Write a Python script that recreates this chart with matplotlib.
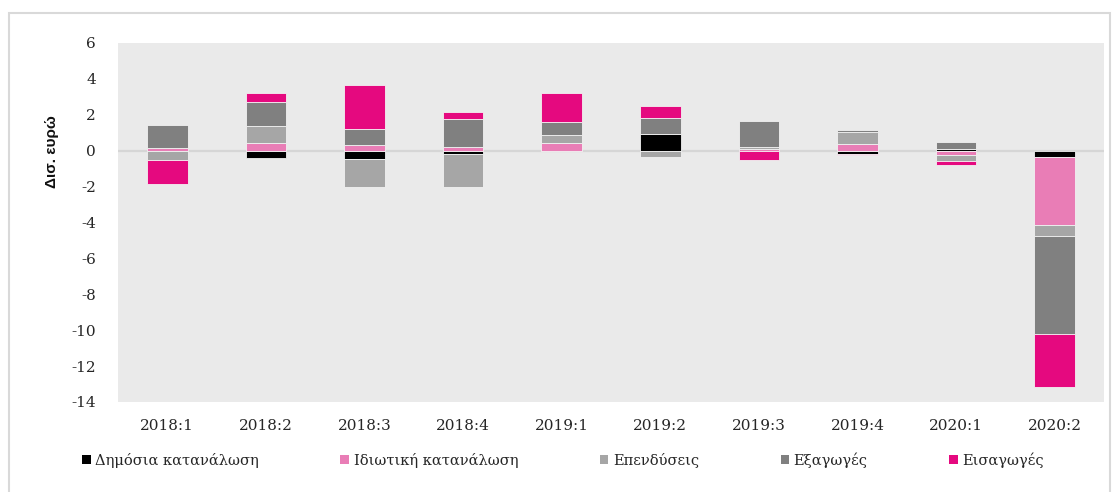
import numpy as np
import matplotlib
matplotlib.use("Agg")
import matplotlib.pyplot as plt
from matplotlib.patches import Rectangle, Patch

categories = ['2018:1', '2018:2', '2018:3', '2018:4', '2019:1',
              '2019:2', '2019:3', '2019:4', '2020:1', '2020:2']
series_names = ['Δημόσια κατανάλωση', 'Ιδιωτική κατανάλωση', 'Επενδύσεις',
                'Εξαγωγές', 'Εισαγωγές']
public = [0.0, -0.41, -0.48, -0.17, 0.0, 0.91, 0.0, -0.19, 0.11, -0.35]
private = [0.15, 0.45, 0.32, 0.19, 0.43, 0.03, 0.10, 0.35, -0.22, -3.80]
invest = [-0.52, 0.93, -1.53, -1.84, 0.43, -0.34, 0.11, 0.71, -0.37, -0.58]
exports = [1.30, 1.36, 0.89, 1.60, 0.76, 0.86, 1.47, 0.09, 0.37, -5.47]
imports = [-1.32, 0.47, 2.46, 0.39, 1.58, 0.67, -0.54, -0.03, -0.19, -2.96]
colors = ['#000000', '#E97DB6', '#A6A6A6', '#808080', '#E5097F']
yticks = list(range(-14, 7, 2))

plt.rcParams['font.family'] = ['DejaVu Serif']

W, H = 1117, 492
fig = plt.figure(figsize=(W / 100, H / 100), dpi=100)
ax = fig.add_axes([118 / W, 1 - 402 / H, (1104 - 118) / W, (402 - 43) / H])
ax.set_facecolor('#EAEAEA')

x = np.arange(len(categories))
pos = np.zeros(len(categories))
neg = np.zeros(len(categories))
for vals, c in zip([public, private, invest, exports, imports], colors):
    v = np.array(vals, dtype=float)
    bottom = np.where(v >= 0, pos, neg)
    ax.bar(x, v, width=0.41, bottom=bottom, color=c, edgecolor='#f2f2f2',
           linewidth=0.6, zorder=3)
    pos = pos + np.where(v >= 0, v, 0)
    neg = neg + np.where(v < 0, v, 0)

ax.axhline(0, color='#d6d6d6', lw=1.6, zorder=2)
ax.set_xlim(-0.5, len(categories) - 0.5)
ax.set_ylim(-14, 6)
ax.set_yticks(yticks)
ax.set_yticklabels([str(t) for t in yticks], fontsize=11)
ax.set_xticks(x)
ax.set_xticklabels(categories, fontsize=11)
ax.tick_params(axis='both', length=0, colors='#262626')
ax.tick_params(axis='y', pad=16)
ax.tick_params(axis='x', pad=12)
for s in ax.spines.values():
    s.set_visible(False)

fig.text(52 / W, 1 - 152 / H, 'Δισ. ευρώ', rotation=90, ha='center', va='center',
         fontsize=11, fontweight='bold', color='#111111',
         family=['Liberation Sans Narrow', 'Liberation Sans', 'DejaVu Sans'])

handles = [Patch(facecolor=c, edgecolor='none') for c in colors]
fig.legend(handles, series_names, loc='center', bbox_to_anchor=(563 / W, 1 - 460 / H),
           ncol=5, frameon=False, fontsize=10.5, handlelength=0.6, handleheight=0.6,
           handletextpad=0.3, columnspacing=5.6, labelcolor='#262626')

fig.patches.append(Rectangle((9 / W, -0.02), (1110 - 9) / W, (492 - 13) / H + 0.02,
                             transform=fig.transFigure, fill=False,
                             edgecolor='#d9d9d9', lw=1.5))

fig.savefig('out.png', dpi=100)
